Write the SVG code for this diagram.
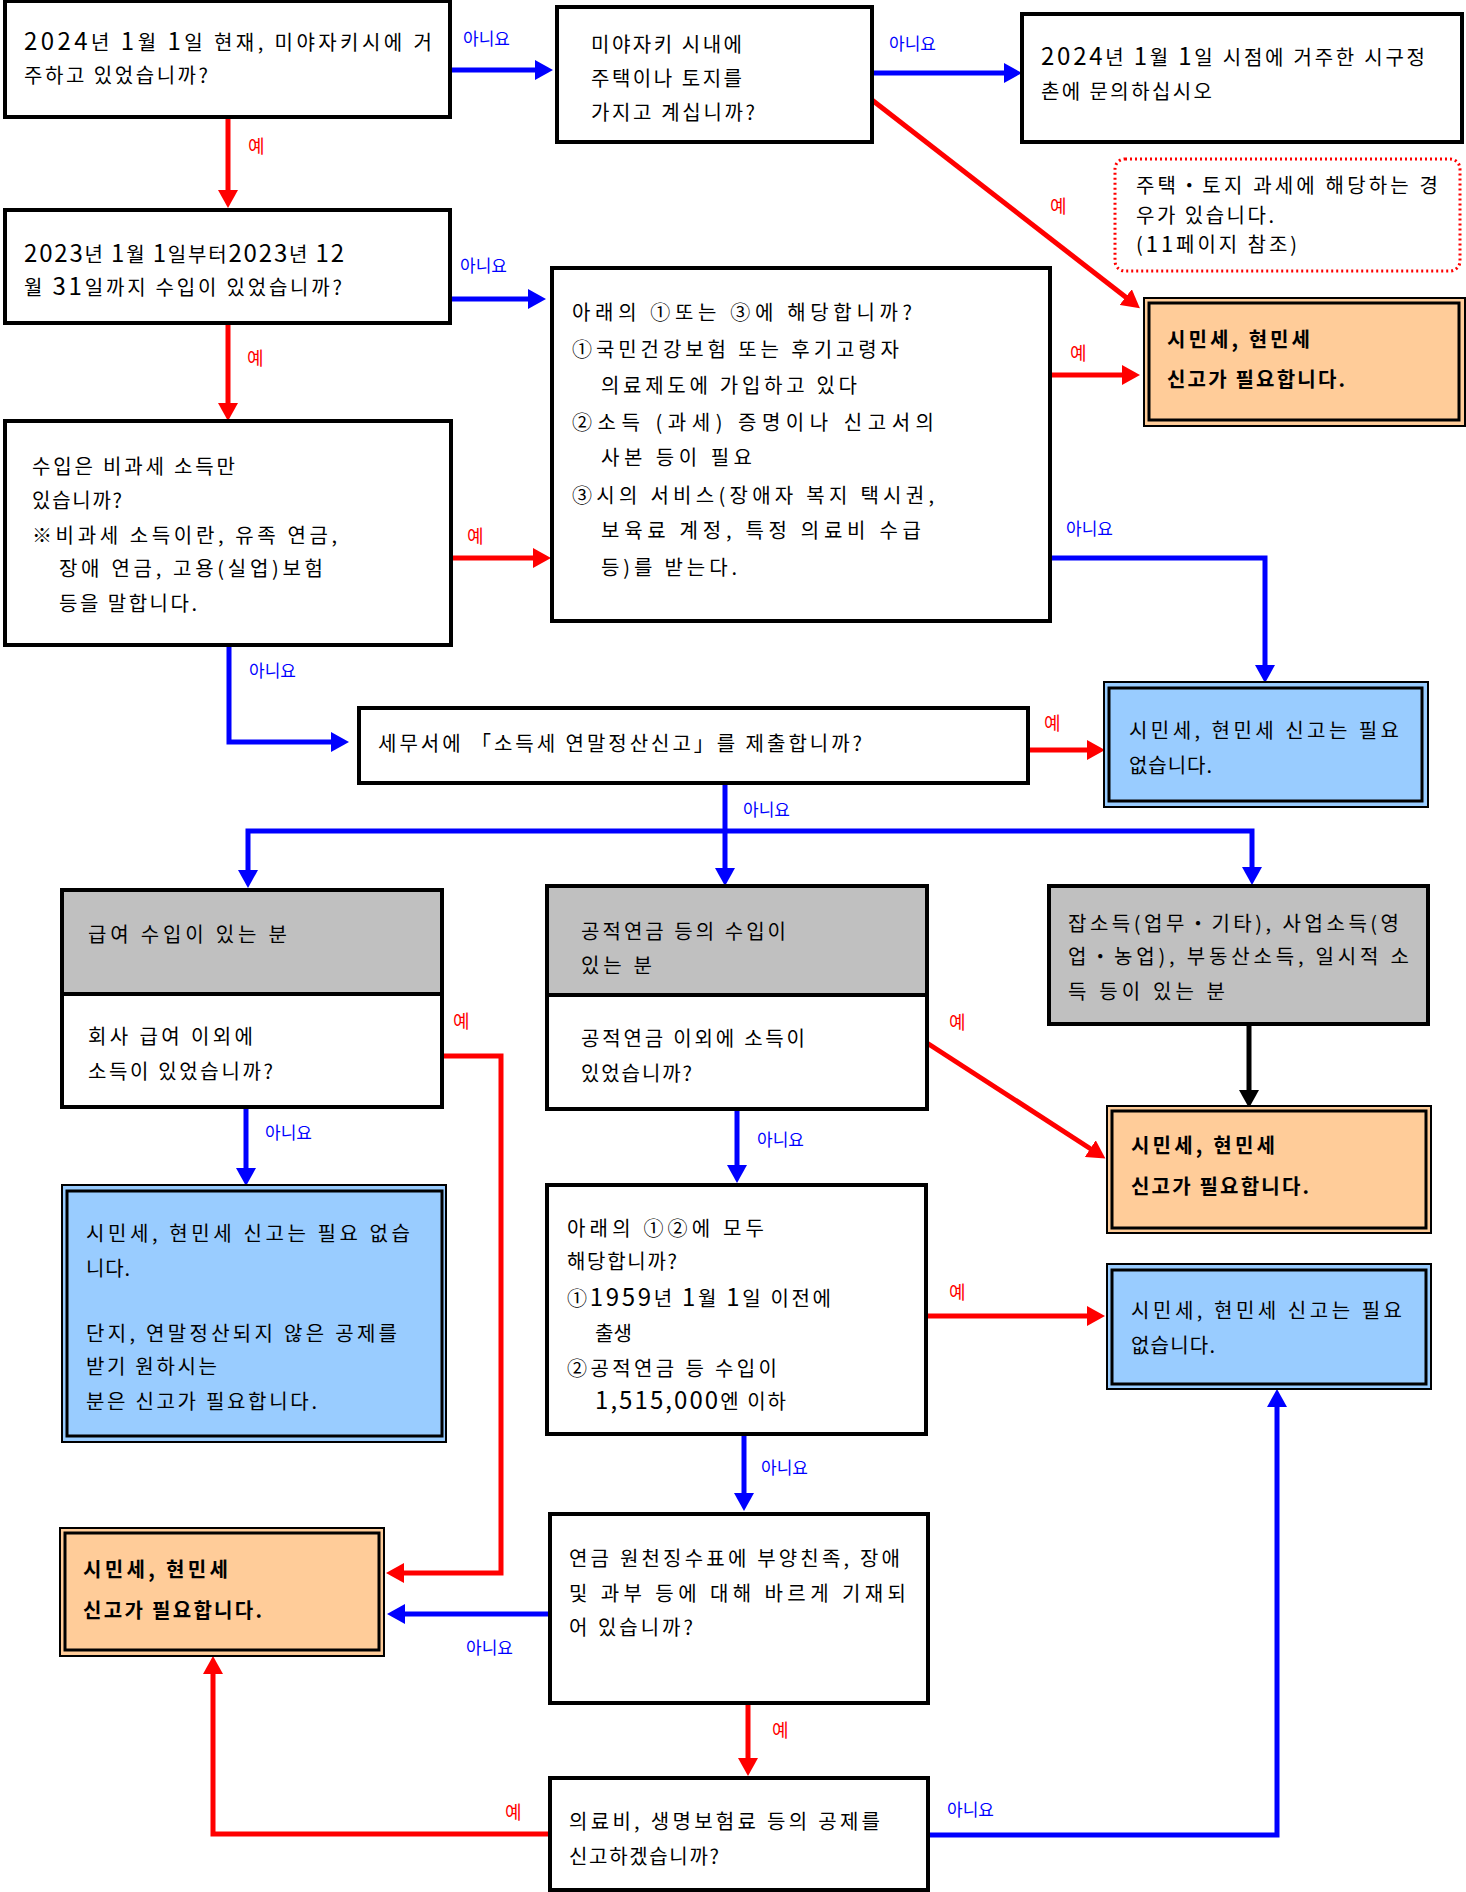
<svg xmlns="http://www.w3.org/2000/svg" width="1466" height="1892" viewBox="0 0 1466 1892">
<style>
text{font-family:"Noto Sans CJK KR","Noto Sans CJK JP",sans-serif;font-size:20px;fill:#000}
.d{font-size:24px}
.b{font-weight:bold}
.ly{fill:#FF0000;font-size:18px}
.ln{fill:#0000FF;font-size:17px}
.q{fill:#fff;stroke:#000;stroke-width:4}
.g{fill:#C0C0C0;stroke:#000;stroke-width:4}
.oo{fill:#FFCC99;stroke:#000;stroke-width:2}
.bo{fill:#99CCFF;stroke:#000;stroke-width:2}
.in{fill:none;stroke:#000;stroke-width:3}
.note{fill:#fff;stroke:#FF0000;stroke-width:3;stroke-dasharray:2 3}
.r{fill:none;stroke:#FF0000;stroke-width:5;marker-end:url(#ar)}
.u{fill:none;stroke:#0000FF;stroke-width:5;marker-end:url(#au)}
.k{fill:none;stroke:#000;stroke-width:5;marker-end:url(#ak)}
</style>
<defs>
<marker id="ar" markerUnits="userSpaceOnUse" markerWidth="20" markerHeight="20" refX="8" refY="10" orient="auto-start-reverse"><path d="M0,0 L18,10 L0,20 z" fill="#FF0000"/></marker>
<marker id="au" markerUnits="userSpaceOnUse" markerWidth="20" markerHeight="20" refX="8" refY="10" orient="auto-start-reverse"><path d="M0,0 L18,10 L0,20 z" fill="#0000FF"/></marker>
<marker id="ak" markerUnits="userSpaceOnUse" markerWidth="20" markerHeight="20" refX="8" refY="10" orient="auto-start-reverse"><path d="M0,0 L18,10 L0,20 z" fill="#000"/></marker>
</defs>
<rect width="1466" height="1892" fill="#fff"/>

<g id="connectors">
<path class="u" d="M450,70 H543"/>
<path class="u" d="M872,73 H1012"/>
<path class="r" d="M872,100 L1132,302"/>
<path class="r" d="M228,117 V198"/>
<path class="r" d="M228,323 V411"/>
<path class="u" d="M450,299 H536"/>
<path class="r" d="M451,558 H541"/>
<path class="r" d="M1050,375 H1130"/>
<path class="u" d="M1051,558 H1265 V673"/>
<path class="u" d="M229,645 V742 H339"/>
<path class="r" d="M1028,750 H1095"/>
<path class="u" d="M725,783 V876"/>
<path class="u" d="M248,878 V831 H1252 V875" style="marker-start:url(#au)"/>
<path class="k" d="M1249,1024 V1098"/>
<path class="u" d="M246,1107 V1176"/>
<path class="r" d="M442,1056 H501 V1573 H396"/>
<path class="r" d="M927,1043 L1097,1153"/>
<path class="u" d="M737,1109 V1173"/>
<path class="r" d="M926,1316 H1095"/>
<path class="u" d="M744,1434 V1501"/>
<path class="u" d="M550,1614 H397"/>
<path class="r" d="M748,1703 V1766"/>
<path class="r" d="M550,1834 H213 V1666"/>
<path class="u" d="M928,1835 H1277 V1399"/>
<text class="ln" x="463" y="45">아니요</text>
<text class="ln" x="889" y="50">아니요</text>
<text class="ln" x="460" y="272">아니요</text>
<text class="ln" x="1066" y="535">아니요</text>
<text class="ln" x="249" y="677">아니요</text>
<text class="ln" x="743" y="816">아니요</text>
<text class="ln" x="265" y="1139">아니요</text>
<text class="ln" x="757" y="1146">아니요</text>
<text class="ln" x="761" y="1474">아니요</text>
<text class="ln" x="466" y="1654">아니요</text>
<text class="ln" x="947" y="1816">아니요</text>
<text class="ly" x="248" y="153">예</text>
<text class="ly" x="247" y="365">예</text>
<text class="ly" x="1050" y="213">예</text>
<text class="ly" x="1070" y="360">예</text>
<text class="ly" x="467" y="543">예</text>
<text class="ly" x="1044" y="730">예</text>
<text class="ly" x="453" y="1028">예</text>
<text class="ly" x="949" y="1029">예</text>
<text class="ly" x="949" y="1299">예</text>
<text class="ly" x="772" y="1737">예</text>
<text class="ly" x="505" y="1819">예</text>
</g>

<g id="q1">
<rect class="q" x="5" y="1" width="445" height="116"/>
<text x="24" y="50" textLength="408" lengthAdjust="spacing"><tspan class="d">2024</tspan>년 <tspan class="d">1</tspan>월 <tspan class="d">1</tspan>일 현재, 미야자키시에 거</text>
<text x="24" y="83" textLength="184" lengthAdjust="spacing">주하고 있었습니까?</text>
</g>

<g id="q1b">
<rect class="q" x="557" y="7" width="315" height="135"/>
<text x="591" y="52" textLength="151" lengthAdjust="spacing">미야자키 시내에</text>
<text x="591" y="86" textLength="151" lengthAdjust="spacing">주택이나 토지를</text>
<text x="591" y="120" textLength="164" lengthAdjust="spacing">가지고 계십니까?</text>
</g>

<g id="ask">
<rect class="q" x="1022" y="14" width="440" height="128"/>
<text x="1041" y="65" textLength="384" lengthAdjust="spacing"><tspan class="d">2024</tspan>년 <tspan class="d">1</tspan>월 <tspan class="d">1</tspan>일 시점에 거주한 시구정</text>
<text x="1041" y="99" textLength="171" lengthAdjust="spacing">촌에 문의하십시오</text>
</g>

<g id="note">
<rect class="note" x="1115" y="159" width="345" height="112" rx="10"/>
<text x="1136" y="193" textLength="302" lengthAdjust="spacing">주택・토지 과세에 해당하는 경</text>
<text x="1136" y="223" textLength="138" lengthAdjust="spacing">우가 있습니다.</text>
<text x="1136" y="252" textLength="161" lengthAdjust="spacing">(<tspan style="font-size:22px">11</tspan>페이지 참조)</text>
</g>

<g id="need1">
<rect class="oo" x="1144" y="298" width="321" height="128"/>
<rect class="in" x="1149" y="303" width="310" height="117"/>
<text class="b" x="1167" y="347" textLength="143" lengthAdjust="spacing">시민세, 현민세</text>
<text class="b" x="1167" y="387" textLength="178" lengthAdjust="spacing">신고가 필요합니다.</text>
</g>

<g id="q2">
<rect class="q" x="5" y="210" width="445" height="113"/>
<text x="24" y="262" textLength="320" lengthAdjust="spacing"><tspan class="d">2023</tspan>년 <tspan class="d">1</tspan>월 <tspan class="d">1</tspan>일부터<tspan class="d">2023</tspan>년 <tspan class="d">12</tspan></text>
<text x="24" y="295" textLength="318" lengthAdjust="spacing">월 <tspan class="d">31</tspan>일까지 수입이 있었습니까?</text>
</g>

<g id="q5">
<rect class="q" x="552" y="268" width="498" height="353"/>
<text x="572" y="320" textLength="340" lengthAdjust="spacing">아래의 ①또는 ③에 해당합니까?</text>
<text x="572" y="357" textLength="327" lengthAdjust="spacing">①국민건강보험 또는 후기고령자</text>
<text x="601" y="393" textLength="256" lengthAdjust="spacing">의료제도에 가입하고 있다</text>
<text x="572" y="430" textLength="362" lengthAdjust="spacing">②소득 (과세) 증명이나 신고서의</text>
<text x="601" y="465" textLength="151" lengthAdjust="spacing">사본 등이 필요</text>
<text x="572" y="503" textLength="362" lengthAdjust="spacing">③시의 서비스(장애자 복지 택시권,</text>
<text x="601" y="538" textLength="320" lengthAdjust="spacing">보육료 계정, 특정 의료비 수급</text>
<text x="601" y="575" textLength="136" lengthAdjust="spacing">등)를 받는다.</text>
</g>

<g id="q3">
<rect class="q" x="5" y="421" width="446" height="224"/>
<text x="32" y="474" textLength="203" lengthAdjust="spacing">수입은 비과세 소득만</text>
<text x="32" y="508" textLength="90" lengthAdjust="spacing">있습니까?</text>
<text x="32" y="543" textLength="305" lengthAdjust="spacing">※비과세 소득이란, 유족 연금,</text>
<text x="59" y="576" textLength="264" lengthAdjust="spacing">장애 연금, 고용(실업)보험</text>
<text x="59" y="611" textLength="138" lengthAdjust="spacing">등을 말합니다.</text>
</g>

<g id="q4">
<rect class="q" x="359" y="708" width="669" height="75"/>
<text x="378" y="751" textLength="484" lengthAdjust="spacing">세무서에 「소득세 연말정산신고」를 제출합니까?</text>
</g>

<g id="noneed1">
<rect class="bo" x="1104" y="682" width="324" height="125"/>
<rect class="in" x="1109" y="688" width="313" height="113"/>
<text x="1129" y="738" textLength="270" lengthAdjust="spacing">시민세, 현민세 신고는 필요</text>
<text x="1129" y="773" textLength="83" lengthAdjust="spacing">없습니다.</text>
</g>

<g id="salary">
<rect class="g" x="62" y="890" width="380" height="104"/>
<rect class="q" x="62" y="994" width="380" height="113"/>
<text x="88" y="942" textLength="199" lengthAdjust="spacing">급여 수입이 있는 분</text>
<text x="88" y="1044" textLength="165" lengthAdjust="spacing">회사 급여 이외에</text>
<text x="88" y="1079" textLength="185" lengthAdjust="spacing">소득이 있었습니까?</text>
</g>

<g id="pension">
<rect class="g" x="547" y="886" width="380" height="109"/>
<rect class="q" x="547" y="995" width="380" height="114"/>
<text x="581" y="939" textLength="205" lengthAdjust="spacing">공적연금 등의 수입이</text>
<text x="581" y="973" textLength="71" lengthAdjust="spacing">있는 분</text>
<text x="581" y="1046" textLength="224" lengthAdjust="spacing">공적연금 이외에 소득이</text>
<text x="581" y="1081" textLength="111" lengthAdjust="spacing">있었습니까?</text>
</g>

<g id="other">
<rect class="g" x="1049" y="886" width="379" height="138"/>
<text x="1068" y="931" textLength="331" lengthAdjust="spacing">잡소득(업무・기타), 사업소득(영</text>
<text x="1068" y="964" textLength="341" lengthAdjust="spacing">업・농업), 부동산소득, 일시적 소</text>
<text x="1068" y="999" textLength="157" lengthAdjust="spacing">득 등이 있는 분</text>
</g>

<g id="need2">
<rect class="oo" x="1107" y="1106" width="324" height="127"/>
<rect class="in" x="1112" y="1111" width="314" height="117"/>
<text class="b" x="1131" y="1153" textLength="144" lengthAdjust="spacing">시민세, 현민세</text>
<text class="b" x="1131" y="1194" textLength="178" lengthAdjust="spacing">신고가 필요합니다.</text>
</g>

<g id="noneed2">
<rect class="bo" x="62" y="1185" width="384" height="257"/>
<rect class="in" x="67" y="1191" width="375" height="245"/>
<text x="86" y="1241" textLength="324" lengthAdjust="spacing">시민세, 현민세 신고는 필요 없습</text>
<text x="86" y="1276" textLength="44" lengthAdjust="spacing">니다.</text>
<text x="86" y="1341" textLength="311" lengthAdjust="spacing">단지, 연말정산되지 않은 공제를</text>
<text x="86" y="1374" textLength="131" lengthAdjust="spacing">받기 원하시는</text>
<text x="86" y="1409" textLength="231" lengthAdjust="spacing">분은 신고가 필요합니다.</text>
</g>

<g id="q6">
<rect class="q" x="547" y="1185" width="379" height="249"/>
<text x="567" y="1236" textLength="197" lengthAdjust="spacing">아래의 ①②에 모두</text>
<text x="567" y="1269" textLength="110" lengthAdjust="spacing">해당합니까?</text>
<text x="567" y="1306" textLength="264" lengthAdjust="spacing">①<tspan class="d">1959</tspan>년 <tspan class="d">1</tspan>월 <tspan class="d">1</tspan>일 이전에</text>
<text x="595" y="1341" textLength="37" lengthAdjust="spacing">출생</text>
<text x="567" y="1376" textLength="210" lengthAdjust="spacing">②공적연금 등 수입이</text>
<text x="595" y="1409" textLength="191" lengthAdjust="spacing"><tspan class="d">1,515,000</tspan>엔 이하</text>
</g>

<g id="noneed3">
<rect class="bo" x="1107" y="1264" width="324" height="125"/>
<rect class="in" x="1112" y="1270" width="314" height="114"/>
<text x="1131" y="1318" textLength="271" lengthAdjust="spacing">시민세, 현민세 신고는 필요</text>
<text x="1131" y="1353" textLength="84" lengthAdjust="spacing">없습니다.</text>
</g>

<g id="q7">
<rect class="q" x="550" y="1514" width="378" height="189"/>
<text x="569" y="1566" textLength="331" lengthAdjust="spacing">연금 원천징수표에 부양친족, 장애</text>
<text x="569" y="1601" textLength="337" lengthAdjust="spacing">및 과부 등에 대해 바르게 기재되</text>
<text x="569" y="1635" textLength="124" lengthAdjust="spacing">어 있습니까?</text>
</g>

<g id="need3">
<rect class="oo" x="60" y="1528" width="324" height="128"/>
<rect class="in" x="65" y="1533" width="314" height="117"/>
<text class="b" x="83" y="1577" textLength="145" lengthAdjust="spacing">시민세, 현민세</text>
<text class="b" x="83" y="1618" textLength="179" lengthAdjust="spacing">신고가 필요합니다.</text>
</g>

<g id="q8">
<rect class="q" x="550" y="1778" width="378" height="112"/>
<text x="569" y="1829" textLength="311" lengthAdjust="spacing">의료비, 생명보험료 등의 공제를</text>
<text x="569" y="1864" textLength="150" lengthAdjust="spacing">신고하겠습니까?</text>
</g>
</svg>
